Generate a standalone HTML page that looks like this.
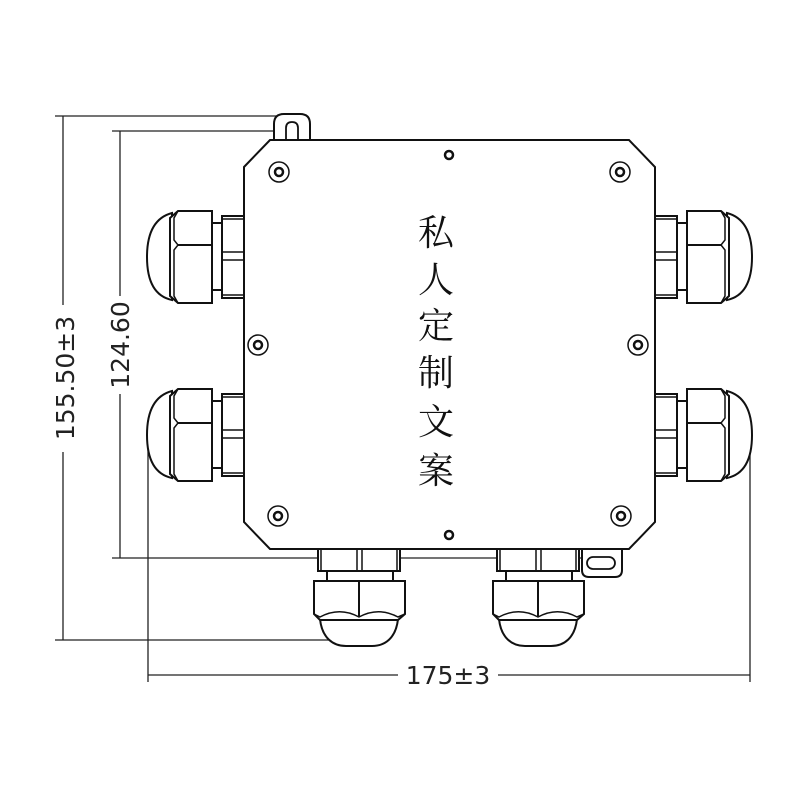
<!DOCTYPE html>
<html><head><meta charset="utf-8"><style>
html,body{margin:0;padding:0;background:#fff;}
svg{display:block;}
</style></head><body>
<svg width="800" height="800" viewBox="0 0 800 800" xmlns="http://www.w3.org/2000/svg">
<defs>
<g id="gl" fill="#fff" stroke="#111" stroke-width="2">
  <rect x="222" y="216" width="22" height="82"/>
  <line x1="222" y1="219" x2="244" y2="219" stroke-width="1.5"/>
  <line x1="222" y1="252" x2="244" y2="252" stroke-width="1.5"/>
  <line x1="222" y1="260" x2="244" y2="260" stroke-width="1.5"/>
  <line x1="222" y1="295" x2="244" y2="295" stroke-width="1.5"/>
  <rect x="212" y="223" width="10" height="67"/>
  <path d="M172,213 C153,218 147,236 147,257 C147,278 153,296 172,300 Z"/>
  <path d="M178,211 L212,211 L212,303 L178,303 L170,296 L170,218 Z"/>
  <path d="M178,211 L174,218 L174,240 L178,245 L174,250 L174,296 L178,303" fill="none" stroke-width="1.5"/>
  <line x1="178" y1="245" x2="212" y2="245"/>
</g>
<g id="gb" fill="#fff" stroke="#111" stroke-width="2">
  <rect x="318" y="549" width="82" height="22"/>
  <line x1="321" y1="549" x2="321" y2="571" stroke-width="1.5"/>
  <line x1="357" y1="549" x2="357" y2="571" stroke-width="1.5"/>
  <line x1="362" y1="549" x2="362" y2="571" stroke-width="1.5"/>
  <line x1="397" y1="549" x2="397" y2="571" stroke-width="1.5"/>
  <rect x="327" y="571" width="66" height="10"/>
  <path d="M320,619 L398,619 C396,638 385,646 372,646 L346,646 C333,646 322,638 320,619 Z"/>
  <path d="M314,581 L405,581 L405,614 L398,620 L320,620 L314,614 Z"/>
  <path d="M314,614 L320,617 C333,610 346,610 359,617 C372,610 385,610 398,617 L405,614" fill="none" stroke-width="1.5"/>
  <line x1="359" y1="581" x2="359" y2="617"/>
</g>
<g id="sc" fill="none" stroke="#111">
  <circle r="10" stroke-width="1.5"/><circle r="4" stroke-width="2.5"/>
</g>
</defs>

<g stroke="#222" stroke-width="1.3" fill="none">
  <line x1="55" y1="116" x2="290" y2="116"/>
  <line x1="55" y1="640" x2="330" y2="640"/>
  <line x1="63" y1="116" x2="63" y2="305"/>
  <line x1="63" y1="452" x2="63" y2="640"/>
  <line x1="112" y1="131" x2="292" y2="131"/>
  <line x1="112" y1="558" x2="600" y2="558"/>
  <line x1="120" y1="131" x2="120" y2="296"/>
  <line x1="120" y1="394" x2="120" y2="558"/>
  <line x1="148" y1="420" x2="148" y2="682"/>
  <line x1="750" y1="420" x2="750" y2="682"/>
  <line x1="148" y1="675" x2="398" y2="675"/>
  <line x1="498" y1="675" x2="750" y2="675"/>
</g>
<g font-family="'DejaVu Sans','Liberation Sans',sans-serif" font-size="25" fill="#222">
  <text x="448" y="684" text-anchor="middle">175±3</text>
  <text transform="translate(74,378) rotate(-90)" text-anchor="middle">155.50±3</text>
  <text transform="translate(129,345) rotate(-90)" text-anchor="middle">124.60</text>
</g>

<g fill="#fff" stroke="#111" stroke-width="2">
  <path d="M274,141 L274,124 Q274,114 284,114 L300,114 Q310,114 310,124 L310,141"/>
  <path d="M286,141 L286,128 Q286,122 292,122 Q298,122 298,128 L298,141" stroke-width="1.8"/>
  <path d="M582,548 L582,570 Q582,577 589,577 L615,577 Q622,577 622,570 L622,548"/>
  <rect x="587" y="557" width="28" height="12" rx="6" stroke-width="1.8"/>
</g>

<path d="M244,167 L270,140 L629,140 L655,167 L655,522 L629,549 L270,549 L244,522 Z" fill="#fff" stroke="#111" stroke-width="2"/>

<use href="#gl"/>
<use href="#gl" transform="translate(0,178)"/>
<use href="#gl" transform="translate(899,0) scale(-1,1)"/>
<use href="#gl" transform="translate(899,178) scale(-1,1)"/>
<use href="#gb"/>
<use href="#gb" transform="translate(179,0)"/>

<use href="#sc" transform="translate(279,172)"/>
<use href="#sc" transform="translate(620,172)"/>
<use href="#sc" transform="translate(258,345)"/>
<use href="#sc" transform="translate(638,345)"/>
<use href="#sc" transform="translate(278,516)"/>
<use href="#sc" transform="translate(621,516)"/>
<g fill="none" stroke="#111" stroke-width="2.5">
  <circle cx="449" cy="155" r="4"/>
  <circle cx="449" cy="535" r="4"/>
</g>

<g font-family="'Noto Serif CJK SC',serif" font-size="36" fill="#111" text-anchor="middle">
  <text x="436" y="245">私</text>
  <text x="436" y="292">人</text>
  <text x="436" y="338">定</text>
  <text x="436" y="385">制</text>
  <text x="436" y="434">文</text>
  <text x="436" y="483">案</text>
</g>
</svg>
</body></html>
